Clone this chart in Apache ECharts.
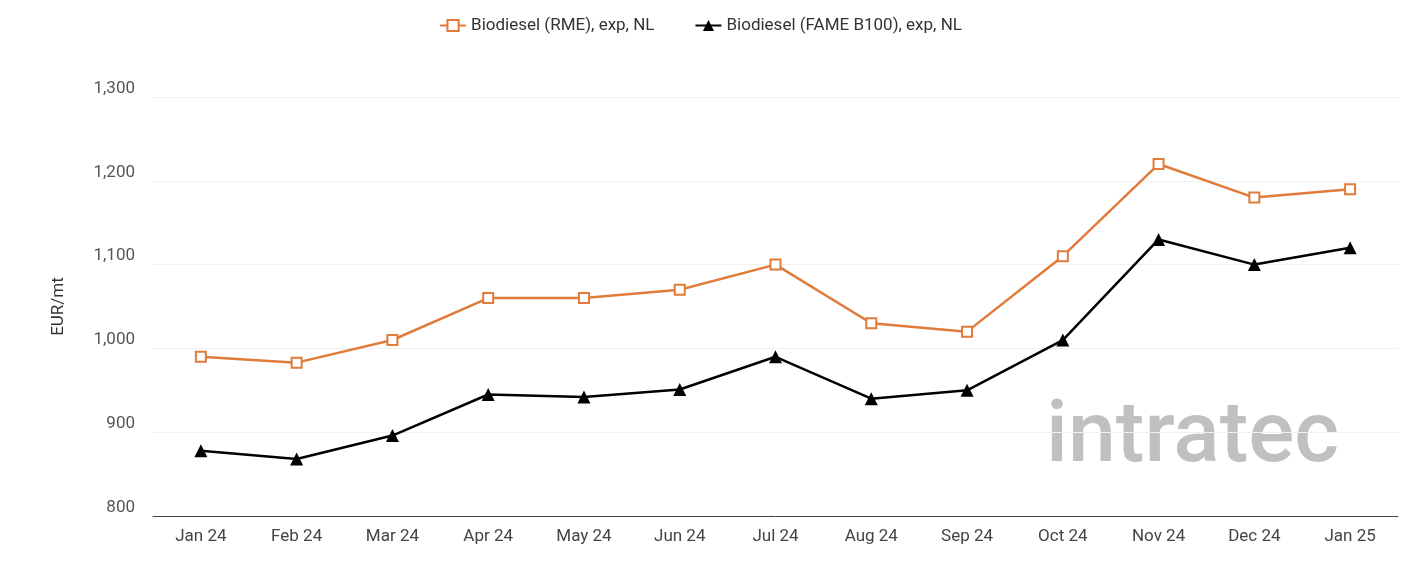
<!DOCTYPE html>
<html>
<head>
<meta charset="utf-8">
<script src="https://cdn.jsdelivr.net/npm/echarts@6/dist/echarts.min.js"></script>
<style>html,body{margin:0;padding:0;background:#fff}#chart{width:1401px;height:561px}</style>
</head>
<body>
<div id="chart"></div>
<script>
const months = ['Jan 24','Feb 24','Mar 24','Apr 24','May 24','Jun 24','Jul 24','Aug 24','Sep 24','Oct 24','Nov 24','Dec 24','Jan 25'];
const rme = [990, 983, 1010, 1060, 1060, 1070, 1100, 1030, 1020, 1110, 1220, 1180, 1190];
const fame = [878, 868, 896, 945, 942, 951, 990, 940, 950, 1010, 1130, 1100, 1120];

let chart = echarts.init(document.getElementById('chart'));
chart.setOption({
  textStyle: { fontFamily: 'Roboto' },
  legend: {
    top: 12,
    itemGap: 40,
    itemWidth: 26,
    textStyle: { fontSize: 17, color: '#333' },
    data: ['Biodiesel (RME), exp, NL', 'Biodiesel (FAME B100), exp, NL']
  },
  grid: { left: 153, right: 3, top: 97, bottom: 45 },
  xAxis: {
    type: 'category',
    boundaryGap: true,
    data: months,
    axisLine: { lineStyle: { color: '#444' } },
    axisTick: { show: false },
    axisLabel: { fontSize: 17, color: '#444', margin: 12 }
  },
  yAxis: {
    type: 'value',
    min: 800, max: 1300, interval: 100,
    name: 'EUR/mt',
    nameLocation: 'middle',
    nameGap: 86,
    nameTextStyle: { fontSize: 17, color: '#333' },
    axisLabel: { fontSize: 17, color: '#555', margin: 18, verticalAlign: 'bottom',
      formatter: v => v.toLocaleString('en-US') },
    splitLine: { lineStyle: { color: '#f0f0f0' } }
  },
  graphic: [{
    type: 'text', left: 1046, top: 396, silent: true,
    style: { text: 'intratec', fontSize: 86, fontWeight: 500, fontFamily: 'Roboto', fill: 'rgba(150,150,150,0.6)' }
  }],
  series: [{
    name: 'Biodiesel (RME), exp, NL',
    type: 'line', data: rme,
    symbol: 'rect', symbolSize: 10,
    itemStyle: { color: '#fff', borderColor: '#e07b3a', borderWidth: 2 },
    lineStyle: { color: '#e07b3a', width: 2.5 },
    emphasis: { disabled: true }
  }, {
    name: 'Biodiesel (FAME B100), exp, NL',
    type: 'line', data: fame,
    symbol: 'triangle', symbolSize: 13,
    itemStyle: { color: '#000' },
    lineStyle: { color: '#000', width: 2.5 },
    emphasis: { disabled: true }
  }]
});
</script>
</body>
</html>
